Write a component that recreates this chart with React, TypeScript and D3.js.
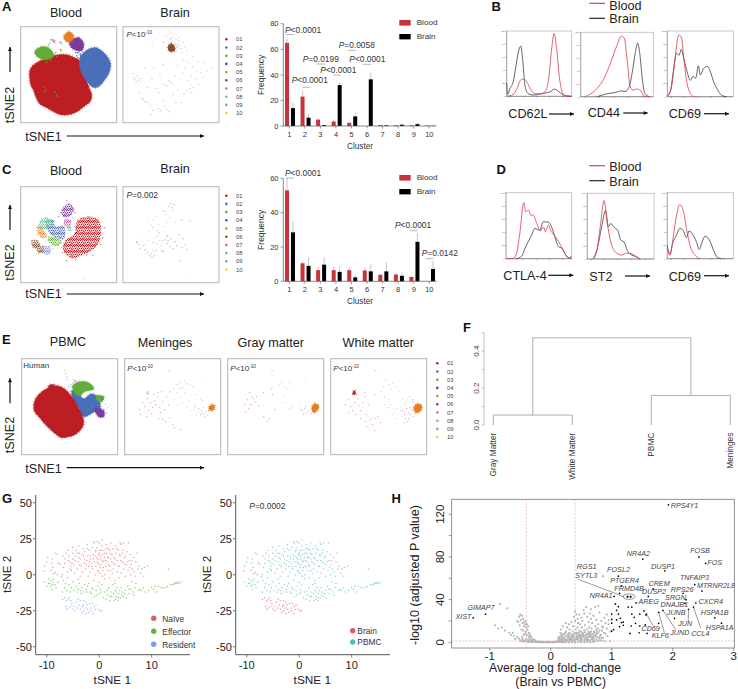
import React from 'react';
import * as d3 from 'd3';

type Pt = number[];

const FONT = '"Liberation Sans", Arial, sans-serif';

// cluster legend
const clusterIds = ['01', '02', '03', '04', '05', '06', '07', '08', '09', '10'];
const clusterColors = ['#bd1e24', '#4a6fb8', '#63ab3a', '#7b3a9e', '#e67f22', '#8a4a26', '#e05fb0', '#6fbf93', '#8a94d6', '#f5cf2e'];
const colorOf = (id: string) => clusterColors[clusterIds.indexOf(id)];
const speckTile = [[0.6,0.8],[2.6,0.4],[4.7,1],[1.5,2.4],[3.6,2.5],[5.5,2.9],[0.4,4],[2.5,4.3],[4.5,4.5],[1.4,5.5],[3.5,5.6],[5.4,5.4]];

// bar charts
const barClusters = ['1', '2', '3', '4', '5', '6', '7', '8', '9', '10'];
const aBlood = [65, 23, 5, 3.5, 2.5, 0, 0.7, 0.5, 0.5, 0.3];
const aBloodTop = [68.5, 28, 6, 5, 3.5, 0, 1, 0.8, 0.8, 0.5];
const aBrain = [14, 6.5, 0.7, 32, 7.5, 36.5, 0.5, 1, 1.5, 0.2];
const aBrainTop = [18, 9.5, 1, 34, 10, 42, 0.8, 2, 2, 0.4];
const cBlood = [53, 10.5, 6.5, 6.5, 6.5, 6.3, 3.8, 4, 2.5, 0];
const cBloodTop = [60, 11.5, 8, 8.5, 8, 8, 4.5, 5, 3, 0];
const cBrain = [28.5, 9, 9.7, 5.5, 2.3, 5.8, 5.8, 3.2, 23, 7.2];
const cBrainTop = [35, 14, 14, 8.5, 4, 10, 11, 5.3, 28, 12];

// flow histograms, % of range on both axes
const cd62lBlood = [[0,0],[10,3],[16,12],[21.5,25],[26.7,26.5],[32,20],[37,10],[44,4],[51,3.5],[59,7],[65,30],[69,71],[73,96],[77,71],[81,30],[86,5],[92,0.5],[100,0]];
const cd62lBrain = [[0,20],[1.5,3],[5,12],[10,22],[14,45],[18,68],[21.5,77],[24.6,56],[28,17],[33,4],[41,2],[49,3],[59,5],[67,7],[73,11],[78,9],[85,3],[92,0.5],[100,0]];
const cd44Blood = [[8,1],[20,10],[31,26],[40,49],[50,80],[56,94],[60,91],[64,57],[68,16],[72,10],[77,12],[83,9],[87,1],[95,0]];
const cd44Brain = [[22,0],[31,3],[38,5],[45,6],[52,8],[56,9],[61,8],[66.5,14.5],[71.5,41],[75,67],[78.5,83],[81.6,65],[85,26],[88.5,5],[95,0]];
const cd69bBlood = [[0,0],[6.5,15],[11.6,56],[15.7,89],[18,94],[21.7,89],[25,58],[30,20],[37,2.5],[42,0]];
const cd69bBrain = [[0,1],[5,10],[9,38],[14,66],[18,63],[21,72],[25,58],[30,38],[35,25],[39,31],[43,28],[47,47],[50,33],[55,43],[61,46],[66,36],[70,23],[76,11],[82,2.5],[90,0]];
const ctlaBlood = [[0,0],[11,0.5],[16,8],[21,38],[27,85],[30,71],[34,74],[37.5,66],[41.6,66],[47,53],[52,42],[57,48],[60,41],[64.5,51],[68,43],[73,36],[80,26],[87,13],[93,3],[100,0]];
const ctlaBrain = [[16,0],[24,4],[29,16],[34,26],[39,36],[44,46],[51,43],[57,56],[64.5,55.5],[69.5,48],[75,31],[80,18],[85,16],[91,5.5],[96,1],[100,4]];
const st2Blood = [[9,0],[15,16],[20,54],[25,89],[30,54],[36.5,21],[44,9],[51.5,6],[59,9],[66.5,8],[74,2.5],[80,0]];
const st2Brain = [[9,0],[15,16],[21.5,49],[27.5,74],[31.5,49],[35,54],[41.5,47],[45.5,44],[50,29],[55,26],[60,13],[66.5,6],[74,3.5],[78,0]];
const cd69dBlood = [[0,16],[4,5],[9,33],[14,66],[19,82],[24,74],[29,46],[35,18],[42,5.5],[49.5,0]];
const cd69dBrain = [[0,19],[4,7],[8,23],[14,36],[19,46],[24,43],[29,32],[33,42],[39,36],[44,26],[48.5,14],[52,23],[57,34],[65,26],[70,13],[76,1.5],[82,0]];

// t-SNE clouds in a 0-96 panel space
const aBloodBlobs: [string, Pt[]][] = [
  ['01', [[9,52],[12,57],[16,60],[22,63],[29,66],[38,68],[46,68],[54,65],[59,62],[62,55],[63,49],[66,42],[68,36],[71,28],[70,22],[63,16],[56,11],[48,8],[40,8],[33,11],[26,15],[19,19],[15,26],[13,32],[10,38],[9,44]]],
  ['02', [[59,64],[63,70],[67,73],[72,75],[76,75],[82,71],[86,67],[89,62],[90,57],[88,49],[84,43],[79,37],[74,35],[70,37],[65,43],[62,48],[59,56]]],
  ['03', [[14,71],[21,76],[29,74],[33,67],[26,63],[18,65]]],
  ['04', [[49,81],[58,85],[63,79],[61,72],[54,73],[50,76]]],
  ['05', [[43,86],[48,91],[53,87],[51,82],[46,81]]],
];
const aBloodDots: [string, Pt[]][] = [
  ['03', [[23,36],[25,33],[34,31],[36,28],[37,26],[24,31],[22,63],[26,60],[19,62],[30,62],[35,70],[36,66]]],
  ['07', [[32,82],[33,83],[34,82],[33,81],[31,83],[34,80]]],
  ['08', [[28,78],[29,80],[30,83],[27,76]]],
  ['09', [[39,80],[40,81],[41,79],[59,68],[58,70]]],
  ['10', [[40,71],[41,72]]],
  ['06', [[41,68],[40,73]]],
  ['02', [[56,67],[57,65],[62,68],[60,69]]],
  ['04', [[55,70],[57,70],[60,67]]],
];
const aBrainBlobs: [string, Pt[]][] = [['06', [[45,76],[48,79],[51,77],[52,73],[49,71],[46,72]]]];
const aBrainDots: [string, Pt[]][] = [
  ['01', [[10,49],[11,45],[12,43],[14,47],[15,42],[17,44],[13,40],[18,41],[20,23],[22,21],[24,20],[19,25],[27,17],[37,48],[36,30],[33,34],[41,38],[46,42],[48,40],[44,37],[50,28],[53,20],[40,22],[42,17],[38,12],[44,13],[46,11],[35,14],[28,8],[30,12],[67,34],[70,35],[64,32],[68,30],[61,29],[58,20],[55,33],[24,35],[29,44],[31,55],[40,58],[52,47],[22,55],[16,30]]],
  ['02', [[60,63],[63,61],[66,59],[62,55],[70,56],[74,52],[78,50],[68,47],[72,43],[65,42],[80,45],[84,52],[60,50],[57,44],[75,61],[70,66],[82,60],[88,55],[76,38],[67,38],[55,57]]],
  ['04', [[50,78],[52,80],[54,76],[55,79],[56,82],[53,83],[57,77],[58,74],[51,74],[60,80],[48,84],[49,81],[56,85],[54,72],[59,70],[52,71],[62,76],[64,72],[55,75],[53,78]]],
  ['05', [[44,86],[46,89],[47,84],[48,90],[49,87],[45,82],[50,85],[47,92],[51,88],[43,88]]],
  ['08', [[31,82],[30,79],[32,84],[29,77]]],
  ['09', [[40,81],[41,80]]],
];
const cBloodBlobs: [string, Pt[]][] = [
  ['01', [[57,62],[68,66],[78,62],[80,51],[76,37],[59,27],[51,25],[43,32],[44,41],[54,49]]],
  ['02', [[26,62],[33,62],[34,56],[43,56],[43,44],[34,46],[28,51]]],
  ['08', [[19,61],[26,65],[31,61],[26,54],[20,54]]],
  ['05', [[17,57],[21,54],[26,46],[21,45],[17,51]]],
  ['03', [[28,46],[34,45],[41,41],[36,37],[28,41]]],
  ['04', [[41,72],[48,79],[53,74],[49,67],[43,66]]],
  ['06', [[11,42],[17,42],[19,37],[13,35]]],
  ['06', [[16,36],[23,36],[23,31],[18,30]]],
  ['09', [[23,36],[29,36],[29,29],[23,29]]],
  ['07', [[44,63],[50,62],[49,57],[44,57]]],
  ['08', [[46,56],[50,56],[50,52],[48,52]]],
];
const cBloodDots: [string, Pt[]][] = [
  ['01', [[42,30],[46,22],[41,35],[84,55],[82,45],[55,55],[80,38],[66,28],[72,27],[55,23]]],
  ['04', [[46,82],[40,70],[54,70],[38,66]]],
  ['10', [[63,4]]],
  ['05', [[37,46],[16,48],[32,34]]],
  ['07', [[42,54],[52,65]]],
];
const cBrainDots: [string, Pt[]][] = [
  ['01', [[44,47],[45,42],[44,39],[39,32],[40,31],[54,37],[59,35],[60,44],[50,34],[57,22],[67,62],[59,63],[48,44],[52,41],[47,36],[14,40],[22,33],[33,32],[56,48],[62,38],[64,33]]],
  ['02', [[27,27],[29,26],[31,27],[25,31],[28,29],[34,52],[35,47],[30,55],[50,72],[49,75],[51,78],[36,50]]],
  ['03', [[37,42],[40,42],[34,39],[42,44],[38,37],[45,46],[30,40],[33,45]]],
  ['07', [[42,71],[40,72],[43,68],[47,65]]],
  ['04', [[48,79],[46,76]]],
  ['06', [[14,41],[17,34],[20,37],[16,38]]],
  ['08', [[24,62],[30,63],[28,58],[33,66],[26,52],[44,60],[52,60]]],
  ['05', [[21,48],[25,42],[22,38]]],
  ['09', [[24,29],[30,32],[36,58],[40,56]]],
  ['10', [[64,4]]],
];
const ePbmcBlobs: [string, Pt[]][] = [
  ['02', [[50,64],[57,61],[62,56],[70,61],[77,56],[78,44],[73,43],[62,38],[57,48],[52,54]]],
  ['03', [[51,69],[58,73],[67,72],[72,66],[63,63],[57,59],[52,63]]],
  ['03', [[75,59],[82,58],[80,53],[75,55]]],
  ['04', [[73,46],[82,44],[82,38],[77,38]]],
  ['01', [[12,49],[14,56],[19,62],[25,66],[35,69],[41,67],[46,63],[50,58],[54,52],[58,45],[61,38],[62,31],[59,25],[53,20],[47,18],[40,17],[35,20],[29,25],[23,31],[18,37],[13,43]]],
  ['01', [[27,69],[32,70],[33,67],[28,65]]],
];
const ePbmcDots: [string, Pt[]][] = [
  ['08', [[43,84],[44,81],[45,78],[46,75],[84,50],[86,47],[82,46]]],
  ['07', [[52,75],[53,74],[54,74],[55,73]]],
  ['02', [[47,68],[49,70],[52,72]]],
  ['06', [[80,56],[81,55],[82,57]]],
  ['10', [[88,49],[90,46],[84,42]]],
  ['09', [[70,48],[76,50],[85,42]]],
];
const eMeningesBlobs: [string, Pt[]][] = [['05', [[84,47],[87,50],[90,49],[89,45],[86,44]]]];
const eMeningesDots: [string, Pt[]][] = [
  ['01', [[15,45],[18,52],[20,48],[16,40],[23,56],[26,52],[28,47],[24,44],[30,54],[33,58],[31,50],[35,47],[27,41],[22,38],[36,42],[40,45],[38,53],[42,58],[29,60],[44,50],[34,36],[38,35],[41,33],[45,37],[48,30],[50,27],[56,25],[33,62],[37,63],[45,63],[22,62],[23,63],[24,61],[23,61]]],
  ['09', [[49,66],[52,62],[50,55],[55,58],[58,52],[54,50],[60,62],[62,47],[66,44],[70,45],[72,40],[74,43],[64,54]]],
  ['03', [[52,70],[56,72],[60,74],[62,71],[65,70],[58,67],[68,68],[55,66],[72,60],[76,56],[78,54]]],
  ['04', [[74,46],[77,44],[79,47],[78,41],[81,43],[76,40],[83,40],[80,38],[70,48],[84,44]]],
  ['08', [[44,84],[45,84]]],
  ['10', [[78,73]]],
];
const eGrayBlobs: [string, Pt[]][] = [['05', [[84,47],[87,51],[91,49],[90,45],[86,42]]]];
const eGrayDots: [string, Pt[]][] = [
  ['01', [[17,50],[20,55],[22,62],[24,58],[26,56],[28,53],[23,50],[29,58],[31,49],[21,46],[36,62],[44,66],[45,60],[36,38],[42,36],[40,33],[47,45],[18,43]]],
  ['09', [[56,58],[64,47],[62,46],[72,46],[75,45],[73,50],[76,42],[58,52]]],
  ['03', [[52,70],[57,68],[60,66],[54,72],[62,72]]],
  ['04', [[74,44],[77,46],[79,42],[78,48],[81,44],[76,40],[83,41]]],
  ['08', [[44,84],[45,84]]],
  ['10', [[78,73],[79,73]]],
];
const eWhiteBlobs: [string, Pt[]][] = [
  ['05', [[83,47],[87,51],[91,49],[90,44],[85,42]]],
  ['01', [[22,62],[24,64],[25,61],[23,60]]],
];
const eWhiteDots: [string, Pt[]][] = [
  ['01', [[15,50],[18,55],[20,48],[24,52],[22,44],[27,56],[28,49],[25,40],[18,42],[30,44],[32,52],[34,58],[36,40],[38,50],[40,35],[42,30],[35,33],[45,36],[30,36],[36,28],[44,24],[47,38],[50,32],[34,62],[44,60]]],
  ['09', [[50,63],[54,58],[58,55],[60,50],[63,46],[64,42],[66,46],[68,40],[70,44],[72,38],[74,42],[62,40],[66,36],[70,47],[58,47],[75,50],[54,50]]],
  ['03', [[55,74],[58,70],[62,72],[66,68],[60,66],[68,64],[53,68],[72,56],[76,55],[79,58],[75,52]]],
  ['04', [[72,44],[74,40],[76,46],[78,42],[75,36],[78,36],[80,40],[81,45],[77,33],[74,32],[83,38],[79,47]]],
  ['06', [[82,55],[82,53]]],
  ['08', [[44,84],[45,84]]],
  ['10', [[78,73]]],
];

// human CD8 sub-clustering, t-SNE units
const naivePoints = [
  [-10.4,6],[-10,9],[-9.8,12],[-9,8],[-8.8,5],[-8.4,15],[-8,14.5],[-7.8,8],[-7.5,7.5],[-9,11],[-6.8,5],[-6.6,8],[-6.5,11],[-6.3,15],[-6,17],[-6,2],[-5.8,13],[-5.6,9],[-5.4,6],[-5.3,3],[-5.1,19],[-5,15],[-5,11],[-4.8,7],[-4.7,1],[-4.5,13],[-4.4,17],[-4.2,4],[-4,9],[-3.9,20],[-3.8,15],[-3.6,-1],[-3.6,11],[-3.4,6],[-3.2,2],[-3,13],[-3,18],[-2.9,8],[-2.7,16],[-2.6,4],[-2.4,10],[-2.3,21],[-2.2,13],[-2.1,-1],[-2,6],[-1.9,17],[-1.8,2],[-1.6,11],[-1.5,8],[-1.4,19],[-1.3,4],[-1.2,14],[-1,22],[-1,-4],[-0.9,9],[-0.8,0],[-0.7,16],[-0.6,6],[-0.5,12],[-0.4,19],[-0.3,3],[-0.2,8],[-0.1,14],[0,-5],[0,22],[0.1,17],[0.2,5],[0.2,1],[0.3,11],[0.4,7],[0.5,20],[0.6,14],[0.7,3],[0.8,9],[0.9,17],[1,12],[1.1,0],[1.2,6],[1.3,21],[1.4,15],[1.5,9],[1.6,3],[1.7,18],[1.8,12],[1.9,-2],[2,6],[2.1,15],[2.2,22],[2.4,9],[2.5,1],[2.6,18],[2.7,4],[2.8,12],[3,-4],[3,7],[3.1,20],[3.2,15],[3.4,2],[3.5,10],[3.6,17],[3.8,-2],[3.9,6],[4,13],[4.2,21],[4.2,1],[4.4,9],[4.5,17],[4.7,4],[4.8,12],[5,-1],[5.1,7],[5.3,16],[5.5,3],[5.6,22],[5.7,10],[5.9,14],[6,0],[6.1,7],[6.3,4],[6.5,12],[6.7,2],[6.9,-1],[7,9],[7.2,15],[7.4,4],[7.6,6],[7.9,1],[8.1,4],[8.4,-1],[8.6,5],[9.2,6],[-7,0],[-6.9,13],[-4,-3],[-2,-6],[1,-3],[3,-6],
  [-5.9,10],[-5.2,8],[-4.6,10],[-4.1,15],[-3.7,7],[-3.3,14],[-2.8,11],[-2.5,7],[-2.2,18],[-1.9,9],[-1.7,13],[-1.4,6],[-1.1,11],[-0.8,13],[-0.6,17],[-0.4,9],[-0.2,11],[0,15],[0,7],[0.2,13],[0.4,17],[0.6,10],[0.8,5],[1,15],[1.2,10],[1.4,18],[1.6,12],[1.8,7],[2,17],[2.2,11],[2.4,14],[2.7,8],[3,11],[3.3,18],[3.6,6],[3.9,14],[4.1,10],[4.4,15],[4.7,8],[5,13],[5.4,9],[5.8,5],[6.2,10],[-0.2,2],[0.6,-1],[2.2,3],[-3.9,12],[-5.5,4]];
const effectorPoints = [
  [-10.4,-5],[-10,-8],[-9.6,-3],[-9.4,-6],[-9.2,-8],[-9,-10],[-8.8,-5],[-8.6,-3],[-8.4,-7],[-8.2,-9],[-7.8,-5],[-7,-12],[-6.8,-4],[-6.6,-9],[-6.4,-6],[-6.2,-11],[-6,-2],[-5.8,-7],[-5.5,-12],[-5.3,-9],[-5,-5],[-4.8,-11],[-4.5,-8],[-4.2,-12],[-4,-10],[-3.8,-6],[-3.5,-13],[-3.3,-9],[-3,-12],[-2.8,-7],[-2.5,-10],[-2.2,-8],[-1.8,-12],[-1.5,-13],[-1.2,-10],[-0.9,-15],[-0.6,-11],[-0.3,-8],[0,-13],[0.2,-10],[0.5,-7],[0.8,-16],[1,-12],[1.3,-17],[1.6,-14],[1.8,-9],[2,-18],[2.2,-12],[2.4,-15],[2.6,-7],[2.8,-18],[3,-11],[3.2,-15],[3.4,-9],[3.5,-18],[3.7,-13],[4,-16],[4.2,-9],[4.4,-12],[4.6,-15],[5,-11],[5.2,-16],[5.4,-8],[5.7,-13],[6,-10],[6.2,-5],[6.6,-14],[6.8,-9],[7,-6],[7.5,-11],[7.8,-10],[8,-11],[8.4,-9],[8.8,-12],[9.4,-11],[10,-9],[10.4,-10],[10.6,-8],[10.9,-12],[11.3,-8],[11.8,-9],[12.2,-9],[12.7,-9],[13,-8],[13.2,4],[13.6,-7],[14,-7],[14.4,-6],[14.8,-6],[15.2,-6],[15.6,-5],[-1,23],[-0.4,23],[0.6,24],[4,22],[4.6,22],
  [-9.7,-6],[-9.1,-4],[-8.9,-7],[-3.6,-11],[-2.4,-12],[-1.4,-9],[-0.5,-14],[0.4,-12],[1.5,-11],[2.1,-15],[2.7,-13],[3.1,-17],[3.3,-12],[3.6,-16],[3.9,-11],[4.3,-14],[4.8,-13],[5.6,-10],[6.4,-12],[14.6,-5.5],[15,-5],[14.2,-6.5]];
const residentPoints = [
  [-7,-17],[-6.6,-16],[-6.2,-18],[-5.9,-17],[-5.6,-16],[-5.4,-18],[-6.4,-22],[-6.2,-24],[-5.8,-23],[-5.4,-22],[-5,-24],[-4.8,-22],[-4.6,-25],[-4.2,-23],[-4,-17],[-3.8,-21],[-3.6,-18],[-3.6,-24],[-3.3,-26],[-3.2,-22],[-3,-18],[-2.9,-25],[-2.7,-23],[-2.6,-19],[-2.5,-27],[-2.3,-21],[-2.2,-24],[-2,-26],[-1.8,-20],[-1.6,-23],[-1.5,-25],[-1.3,-20],[-1.1,-27],[-1,-22],[-0.8,-24],[-0.6,-21],[-0.2,-24],[0.1,-25],[0.4,-25],[-4.4,-19],[-3,-21],[-5.2,-20]];
const brainExtraPoints = [[-10.6,2.5],[-9.2,3],[-8.7,0.7],[-8,0.2],[-7.2,-1.6],[-8.4,1.5]];

// volcano plot
const volcanoGrey = [
  [-0.83,36],[-0.71,32],[-0.91,16],[-0.86,13],[-0.8,14],[-0.75,11],[-0.68,9],[-0.65,7],[-0.6,6],[-0.62,9],[-0.55,5],[-0.58,3],[-0.52,3.5],[-0.5,26],[-0.52,24],[-0.47,25],[-0.49,21],[-0.45,22],[-0.43,19],[-0.46,18],[-0.42,17],[-0.4,14],[-0.44,15],[-0.38,12],[-0.41,10],[-0.36,9],[-0.39,7],[-0.33,6],[-0.35,4],[-0.3,3],[-0.32,5],[-0.27,2.5],[-0.25,1.5],[-0.22,1],[-0.18,0.8],[-0.15,0.5],[-0.12,0.4],[-0.1,0.3],[-0.07,0.2],[-0.04,0.2],[-0.02,0.1],
  [-0.45,0.5],[-0.42,1],[-0.38,0.5],[-0.35,1],[-0.3,0.6],[-0.28,1.2],[-0.24,0.4],[-0.2,0.3],[-0.16,0.2],[-0.12,0.1],[-0.5,2],[-0.46,3],[-0.4,3],[-0.37,2],
  [0,0.1],[0.03,0.2],[0.06,0.2],[0.08,0.4],[0.1,0.3],[0.12,0.8],[0.14,0.3],[0.16,1.2],[0.18,0.4],[0.2,1.8],[0.22,0.5],[0.24,2.4],[0.26,0.8],[0.28,3.2],[0.3,1],[0.32,4],[0.34,1.5],[0.36,2.5],[0.38,5],[0.4,1],[0.42,3],[0.44,6],[0.46,1.5],[0.48,4],[0.5,7],[0.52,2],[0.54,5],[0.56,0.8],[0.58,3],[0.6,8],[0.62,1.5],[0.64,5],[0.66,10],[0.68,3],[0.7,7],[0.72,1],[0.74,12],[0.76,5],[0.78,9],[0.8,2],[0.82,7],[0.84,11],[0.86,4],[0.88,1],[0.9,8],[0.92,13],
  [0.15,3],[0.18,5],[0.2,7],[0.16,9],[0.17,12],[0.22,4],[0.24,6],[0.25,10],[0.27,14],[0.29,6],[0.3,9],[0.31,12],[0.33,3],[0.35,7],[0.36,10],[0.37,15],[0.39,8],[0.41,12],[0.42,5],[0.43,9],[0.44,14],[0.46,7],[0.47,11],[0.49,3],[0.5,10],[0.51,14],[0.53,8],[0.55,11],[0.56,16],[0.57,6],[0.59,12],[0.61,5],[0.62,10],[0.63,14],[0.65,7],[0.67,13],[0.69,5],[0.71,10],[0.73,15],[0.75,8],[0.77,13],[0.8,11],[0.83,4],[0.85,14],[0.87,9],[0.93,6],[0.95,17],[0.97,1],[0.98,10],
  [0.4,29],[0.42,26],[0.44,22],[0.38,24],[0.4,20],[0.45,18],[0.47,26],[0.48,17],[0.5,23],[0.52,20],[0.54,30],[0.55,27],[0.58,33],[0.6,24],[0.62,19],[0.64,27],[0.66,22],[0.68,18],[0.7,25],[0.73,33],[0.75,21],[0.78,17],[0.8,28],[0.83,20],[0.86,62],[0.88,23],[0.9,18],[0.92,26],[0.95,21],[0.78,34],[0.66,31],[0.85,15],[0.3,17],[0.34,19],[0.2,15],[0.25,18],
  [-0.02,0.6],[0.05,0.8],[-0.3,0.1],[0.2,0.1],[0.3,0.1],[0.4,0.2],[0.5,0.2],[0.6,0.3],[0.65,0.2],[0.7,0.4],[0.55,0.1],[0.45,0.1],[0.35,0.2],[0.25,0.1],[0.15,0.1],[0.05,0.1],
];
const volcanoGreyBand = [
  [-0.36,0.3],[-0.33,0.8],[-0.31,0.2],[-0.26,0.3],[-0.22,0.2],[-0.18,0.1],[-0.14,0.1],[-0.09,0.1],[-0.05,0.1],[-0.48,1],[-0.44,1.5],[-0.41,2],[-0.34,2.5],[-0.31,1.5],[-0.47,5],[-0.44,7],[-0.42,8],[-0.48,12],[-0.45,11],[-0.51,16],[-0.55,20],[-0.53,19],[-0.41,20],[-0.39,17],[-0.37,15],[-0.36,6],[-0.34,8],
  [0.11,1.5],[0.13,2],[0.15,1],[0.17,2.5],[0.19,3],[0.21,1.2],[0.23,3.3],[0.25,2],[0.27,1.5],[0.29,4],[0.31,2.5],[0.33,1.8],[0.35,4.5],[0.37,1.2],[0.39,3.2],[0.41,2],[0.43,4.2],[0.45,2.8],[0.47,5.5],[0.49,1.2],[0.51,3.6],[0.53,6],[0.55,2.4],[0.57,4],[0.59,1.6],[0.61,3],[0.63,7],[0.65,2.2],[0.67,4.6],[0.69,1.4],[0.71,3.4],[0.73,5.8],[0.75,2.6],[0.77,1.2],[0.79,4.2],[0.81,6],[0.83,1.8],
  [0.12,4],[0.14,5],[0.16,6],[0.18,7.5],[0.2,4.5],[0.22,8],[0.24,9],[0.26,5.5],[0.28,7.5],[0.3,6],[0.32,8],[0.34,6],[0.36,5.5],[0.38,7],[0.4,9],[0.42,7.5],[0.44,4.5],[0.46,9],[0.48,7],[0.5,5.5],[0.52,9],[0.54,7],[0.56,9.5],[0.58,7],[0.6,5.5],[0.62,8],[0.64,9],[0.66,6],[0.68,8],[0.7,5],[0.72,9],[0.74,6.5],[0.76,10],
];
const volcanoBlack = [
  [1.08,30],[1.11,26.5],[1,26.5],[1,21.5],[1.14,22.5],[1.16,18.5],[1.19,16],[1,18],[1.03,12],[1,10.6],[1.13,14.7],[1.19,19],[1.3,8.4],[1.45,9],[1.33,26.5],[1.37,23.4],[1.46,26.5],[1.53,29.4],[1.56,25.6],[1.39,17.8],[1.46,15.3],[1.32,15.3],[1.55,16.3],[1.33,33],[1.27,33],[1.11,33.4],[1.77,17.8],[1.58,8.4],[1.06,36],[1.08,21],[1.26,42.8],[1.31,42.8],
];
const geneNames = ['RPS4Y1','NR4A2','FOSB','FOS','DUSP1','FOSL2','PTGER4','FRMD4B','NR4A1','CREM','DUSP2','AREG','TNFAIP3','MTRNR2L8','RPS26','SRGN','DNAJB1','CXCR4','HSPA1B','HSPA1A','JUNB','JUN','CCL4','JUND','KLF6','CD69','GIMAP7','XIST','RGS1','SYTL3'];
const geneFold = [1.93,1.51,2.43,2.54,1.87,1.11,1.16,1.13,1.04,1.68,1.6,1.4,2.36,2.48,2.17,2.22,2.2,2.38,2.69,2.8,2.03,2.26,2.34,1.84,1.77,1.57,-1.07,-1.27,1.26,1.31];
const genePval = [128.8,78,80,74,67,62,53,46,43,50,43,37,54,48,46,40,36.5,37,23,18,22.5,31,33,30,28,26.5,26.5,23,42.8,42.8];
const geneLabelOffset = [[2.3,3.3],[-16,-3.3],[-8.7,-3.7],[1.7,2],[-13.7,-2],[-11.3,-3.7],[-11.3,-2.7],[-5.3,-2],[-24.7,2],[-4.7,-3.3],[-6.3,-2.7],[2.3,1.3],[-14.7,-5],[-5,-3.3],[-12.3,-1.7],[-21,0],[-24.3,4],[2.7,1.3],[-14,-3],[-15.7,6.7],[-7.7,-3],[-10.3,16.3],[-2.3,28.7],[7.3,24.7],[-7,26],[-5,17],[-18,-3.7],[-17.7,1.3],[-50.7,-27.7],[-55.3,-18.3]];
const geneLeaders: Record<string, number[]> = { JUN: [-0.3, 12.3], CCL4: [7.3, 21], JUND: [12.7, 19.3], KLF6: [5.7, 20.3], CD69: [6.7, 11.7] };

// dendrogram
const leafNames = ['Gray Matter', 'White Matter', 'PBMC', 'Meninges'];
const mergeLow = 0.054;
const mergeHigh = 0.16;
const mergeTop = 0.472;

const blobLine = d3.line<Pt>().curve(d3.curveCatmullRomClosed.alpha(0.5));

function Txt({ x, y, size = 8, anchor = 'start', fill = '#222', rotate = 0, weight = 'normal', italic = false, children }: any) {
  return (
    <text
      transform={`translate(${x},${y})${rotate ? ` rotate(${rotate})` : ''}`}
      fontFamily={FONT} fontSize={size} textAnchor={anchor} fill={fill}
      fontWeight={weight} fontStyle={italic ? 'italic' : 'normal'}
    >
      {children}
    </text>
  );
}

function PLabel({ x, y, rest, size = 8.4, fill = '#333' }: any) {
  return (
    <text x={x} y={y} fontFamily={FONT} fontSize={size} fill={fill}>
      <tspan fontStyle="italic">P</tspan>{rest}
    </text>
  );
}

function PExp({ x, y }: any) {
  return (
    <text x={x} y={y} fontFamily={FONT} fontSize={8} fill="#333">
      <tspan fontStyle="italic">P</tspan>{'<10'}
      <tspan fontSize={4.6} dy={-3}>-10</tspan>
    </text>
  );
}

function Arrow({ x1, y1, x2, y2, w = 1.2 }: any) {
  const horiz = y1 === y2;
  const head = horiz ? `${x2},${y2} ${x2 - 4},${y2 - 2} ${x2 - 4},${y2 + 2}` : `${x2},${y2} ${x2 - 2},${y2 + 4} ${x2 + 2},${y2 + 4}`;
  return (
    <g>
      <line x1={x1} y1={y1} x2={x2} y2={y2} stroke="#111" strokeWidth={w} />
      <polygon points={head} fill="#111" />
    </g>
  );
}

function TsnePanel({ x, y, size = 96, blobs = [], dots = [], speck = false, r = 0.6, alpha = 0.45 }: any) {
  const sx = d3.scaleLinear().domain([0, 96]).range([x, x + size]);
  const sy = d3.scaleLinear().domain([0, 96]).range([y + size, y]);
  const line = (pts: Pt[]) => blobLine(pts.map(p => [sx(p[0]), sy(p[1])])) || '';
  return (
    <g>
      <rect x={x} y={y} width={size} height={size} fill="#fff" stroke="#b4b4b4" strokeWidth={1} />
      {blobs.map(([id, pts]: any, i: number) => (
        <g key={i}>
          {!speck && (
            <path d={line(pts)} fill="none" stroke={colorOf(id)} strokeWidth={3.2} strokeDasharray="0.7 2.3" strokeOpacity={0.4} />
          )}
          <path
            d={line(pts)}
            fill={speck ? `url(#speck${id})` : colorOf(id)}
            stroke={colorOf(id)}
            strokeWidth={speck ? 1.2 : 1.2}
            strokeDasharray={speck ? '0.8 2.4' : '1 1.2'}
            strokeOpacity={speck ? 0.75 : 0.85}
          />
        </g>
      ))}
      {dots.map(([id, pts]: any) =>
        pts.map((p: Pt, i: number) => (
          <circle key={id + i} cx={sx(p[0])} cy={sy(p[1])} r={r} fill={colorOf(id)} opacity={alpha} />
        ))
      )}
    </g>
  );
}

function ClusterLegend({ x, y }: any) {
  const sy = d3.scalePoint().domain(clusterIds).range([y, y + 73.8]);
  return (
    <g>
      {clusterIds.map(id => (
        <g key={id}>
          <circle cx={x} cy={sy(id)} r={1.3} fill={colorOf(id)} />
          <Txt x={x + 9.7} y={(sy(id) as number) + 2} size={5.8} fill="#444">{id}</Txt>
        </g>
      ))}
    </g>
  );
}

function BarChart({ baseY, topY, maxVal, ticks, blood, bloodTop, brain, brainTop, labelY, legendY }: any) {
  const x = d3.scalePoint().domain(barClusters).range([289.3, 429.3]);
  const y = d3.scaleLinear().domain([0, maxVal]).range([baseY, topY]);
  const axis = '#555';
  return (
    <g>
      {barClusters.map((c, i) => {
        const cx = x(c) as number;
        return (
          <g key={c}>
            <line x1={cx - 2.3} x2={cx - 2.3} y1={y(blood[i])} y2={y(bloodTop[i])} stroke="#aaa" strokeWidth={0.7} />
            <line x1={cx + 3.7} x2={cx + 3.7} y1={y(brain[i])} y2={y(brainTop[i])} stroke="#aaa" strokeWidth={0.7} />
            <rect x={cx - 4.3} y={y(blood[i])} width={4} height={baseY - y(blood[i])} fill="#c8343a" />
            <rect x={cx + 1.7} y={y(brain[i])} width={4} height={baseY - y(brain[i])} fill="#000" />
            <line x1={cx} x2={cx} y1={baseY} y2={baseY + 2.5} stroke={axis} strokeWidth={0.6} />
            <Txt x={cx} y={baseY + 11} size={7.5} anchor="middle" fill="#333">{c}</Txt>
          </g>
        );
      })}
      <line x1={283.3} x2={436.7} y1={baseY} y2={baseY} stroke={axis} strokeWidth={0.7} />
      <line x1={283.3} x2={283.3} y1={baseY} y2={topY} stroke={axis} strokeWidth={0.7} />
      {ticks.map((t: number) => (
        <g key={t}>
          <line x1={280.5} x2={283.3} y1={y(t)} y2={y(t)} stroke={axis} strokeWidth={0.6} />
          <Txt x={278.5} y={y(t) + 2.7} size={7.5} anchor="end" fill="#333">{t}</Txt>
        </g>
      ))}
      <Txt x={264} y={(baseY + topY) / 2} size={8.5} anchor="middle" rotate={-90} fill="#333">Frequency</Txt>
      <Txt x={360} y={labelY} size={8.2} anchor="middle" fill="#333">Cluster</Txt>
      <rect x={399.3} y={legendY} width={11.4} height={5.6} fill="#c8343a" />
      <Txt x={416.7} y={legendY + 5.3} size={8.1} fill="#333">Blood</Txt>
      <rect x={399.3} y={legendY + 14} width={11.4} height={5.4} fill="#000" />
      <Txt x={416.7} y={legendY + 19} size={8.1} fill="#333">Brain</Txt>
    </g>
  );
}

function Facs({ x0, x1, y0, y1, blood, brain }: any) {
  const sx = d3.scaleLinear().domain([0, 100]).range([x0, x1]);
  const sy = d3.scaleLinear().domain([0, 100]).range([y1, y0]);
  const line = d3.line<Pt>().x(d => sx(d[0])).y(d => sy(d[1])).curve(d3.curveMonotoneX);
  return (
    <g>
      <rect x={x0} y={y0} width={x1 - x0} height={y1 - y0} fill="#fff" stroke="#bbb" strokeWidth={0.8} />
      <line x1={x0} x2={x1} y1={y1} y2={y1} stroke="#666" strokeWidth={0.6} />
      <line x1={x0} x2={x0} y1={y0} y2={y1} stroke="#888" strokeWidth={0.5} />
      {sy.ticks(5).map(t => (
        <g key={t}>
          <line x1={x0 - 1} x2={x0} y1={sy(t)} y2={sy(t)} stroke="#666" strokeWidth={0.4} />
          <Txt x={x0 - 1.5} y={sy(t) + 0.8} size={2.4} anchor="end" fill="#555">{t}</Txt>
        </g>
      ))}
      {[6, 26, 46, 66, 86].map(t => (
        <line key={t} x1={sx(t)} x2={sx(t)} y1={y1} y2={y1 + 1.2} stroke="#444" strokeWidth={0.4} />
      ))}
      <path d={line(brain) || ''} fill="none" stroke="#333" strokeWidth={0.75} />
      <path d={line(blood) || ''} fill="none" stroke="#dc3d47" strokeWidth={0.8} />
    </g>
  );
}

function FacsKey({ y, bloodBase, brainBase }: any) {
  return (
    <g>
      <line x1={589.3} x2={605} y1={y} y2={y} stroke="#dc3d47" strokeWidth={1.2} />
      <Txt x={609.3} y={bloodBase} size={12.6}>Blood</Txt>
      <line x1={589.3} x2={605} y1={y + 15} y2={y + 15} stroke="#222" strokeWidth={1.2} />
      <Txt x={609.3} y={brainBase} size={12.6}>Brain</Txt>
    </g>
  );
}

function SubClusterPlot({ left, layers, children }: any) {
  const x = d3.scaleLinear().domain([-12.1, 17.3]).range([left + 35.7, left + 190]);
  const y = d3.scaleLinear().domain([-55.5, 55.4]).range([654.7, 495]);
  const axis = '#555';
  return (
    <g>
      {layers.map(([pts, color]: any, k: number) =>
        pts.map((p: Pt, i: number) => (
          <circle key={`${k}-${i}`} cx={x(p[0])} cy={y(p[1])} r={0.75} fill={color} opacity={0.65} />
        ))
      )}
      <line x1={left + 35.7} x2={left + 35.7} y1={495} y2={654.7} stroke={axis} strokeWidth={1} />
      <line x1={left + 35.7} x2={left + 190} y1={654.7} y2={654.7} stroke={axis} strokeWidth={1} />
      {[-50, -25, 0, 25, 50].map(t => (
        <g key={t}>
          <line x1={left + 33} x2={left + 35.7} y1={y(t)} y2={y(t)} stroke={axis} strokeWidth={0.8} />
          <Txt x={left + 32} y={y(t) + 3.9} size={11} anchor="end">{t}</Txt>
        </g>
      ))}
      {[-10, 0, 10].map(t => (
        <g key={t}>
          <line x1={x(t)} x2={x(t)} y1={654.7} y2={657.4} stroke={axis} strokeWidth={0.8} />
          <Txt x={x(t)} y={668.5} size={11} anchor="middle">{t}</Txt>
        </g>
      ))}
      <Txt x={left + 112.3} y={684} size={11.8} anchor="middle">tSNE 1</Txt>
      <Txt x={left + 10.7} y={574.3} size={11.8} anchor="middle" rotate={-90}>tSNE 2</Txt>
      {children}
    </g>
  );
}

function Volcano() {
  const x = d3.scaleLinear().domain([-1.623, 3.01]).range([451.7, 734.3]);
  const y = d3.scaleLinear().domain([-5.3, 134]).range([648, 499.3]);
  const pink = '#e6b8bd';
  return (
    <g>
      {volcanoGrey.concat(volcanoGreyBand).map((p, i) => <circle key={i} cx={x(p[0])} cy={y(p[1])} r={1.05} fill="#b2b2b2" />)}
      <line x1={x(-0.4)} x2={x(-0.4)} y1={499.3} y2={648} stroke={pink} strokeWidth={0.8} strokeDasharray="2 1.5" />
      <line x1={x(0.4)} x2={x(0.4)} y1={499.3} y2={648} stroke={pink} strokeWidth={0.8} strokeDasharray="2 1.5" />
      <line x1={451.7} x2={734.3} y1={y(1.3)} y2={y(1.3)} stroke={pink} strokeWidth={0.8} strokeDasharray="2 1.5" />
      {volcanoBlack.map((p, i) => <circle key={i} cx={x(p[0])} cy={y(p[1])} r={0.85} fill="#000" />)}
      {geneNames.map((g, i) => {
        const dx = x(geneFold[i]);
        const dy = y(genePval[i]);
        const leader = geneLeaders[g];
        return (
          <g key={g}>
            <circle cx={dx} cy={dy} r={0.85} fill="#000" />
            {leader && <line x1={dx} y1={dy} x2={dx + leader[0]} y2={dy + leader[1]} stroke="#333" strokeWidth={0.5} />}
            <Txt x={dx + geneLabelOffset[i][0]} y={dy + geneLabelOffset[i][1]} size={7.2} italic fill="#444">{g}</Txt>
          </g>
        );
      })}
      <ellipse cx={(x(1.26) + x(1.31)) / 2} cy={y(42.8)} rx={6} ry={2.7} fill="none" stroke="#333" strokeWidth={0.5} />
      <line x1={x(1.31) - 52.3} y1={y(42.8) - 17.3} x2={x(1.31) - 6.7} y2={y(42.8)} stroke="#333" strokeWidth={0.5} />
      <rect x={451.7} y={499.3} width={282.6} height={148.7} fill="none" stroke="#777" strokeWidth={0.8} />
      {[-1, 0, 1, 2, 3].map(t => (
        <g key={t}>
          <line x1={x(t)} x2={x(t)} y1={648} y2={651} stroke="#555" strokeWidth={0.6} />
          <Txt x={x(t)} y={659.5} size={11.5} anchor="middle">{t}</Txt>
        </g>
      ))}
      {[0, 20, 40, 60, 80, 100, 120].map(t => (
        <line key={t} x1={448.7} x2={451.7} y1={y(t)} y2={y(t)} stroke="#555" strokeWidth={0.6} />
      ))}
      {[0, 40, 80, 120].map(t => (
        <Txt key={t} x={444} y={y(t)} size={11.5} anchor="middle" rotate={-90}>{t}</Txt>
      ))}
      <Txt x={419} y={575} size={12.6} anchor="middle" rotate={-90}>-log10 (adjusted P value)</Txt>
      <Txt x={555} y={671.7} size={12.2} anchor="middle">Average log fold-change</Txt>
      <Txt x={560.7} y={685.7} size={12.2} anchor="middle">(Brain vs PBMC)</Txt>
    </g>
  );
}

function Dendrogram() {
  const y = d3.scaleLinear().domain([0, 0.5]).range([425, 332.7]);
  const x = d3.scalePoint().domain(leafNames).range([493.3, 730.3]);
  const [a, b, c, d] = leafNames.map(n => x(n) as number);
  const left = (a + b) / 2;
  const right = (c + d) / 2;
  const grey = '#a6a6a6';
  const branches = [
    `M${a},${y(0)}V${y(mergeLow)}H${b}V${y(0)}`,
    `M${c},${y(0)}V${y(mergeHigh)}H${d}V${y(0)}`,
    `M${left},${y(mergeLow)}V${y(mergeTop)}H${right}V${y(mergeHigh)}`,
  ];
  return (
    <g>
      {branches.map((p, i) => <path key={i} d={p} fill="none" stroke={grey} strokeWidth={0.9} />)}
      <line x1={484} x2={484} y1={y(0)} y2={y(0.5)} stroke={grey} strokeWidth={0.7} />
      {[0, 0.1, 0.2, 0.3, 0.4, 0.5].map(t => (
        <line key={t} x1={481.5} x2={484} y1={y(t)} y2={y(t)} stroke={grey} strokeWidth={0.6} />
      ))}
      {[0, 0.2, 0.4].map(t => (
        <Txt key={t} x={479} y={y(t)} size={8} anchor="middle" rotate={-90} fill="#444">{t.toFixed(1)}</Txt>
      ))}
      {leafNames.map(n => (
        <Txt key={n} x={(x(n) as number) + 2.8} y={432.7} size={8.3} anchor="end" rotate={-90} fill="#333">{n}</Txt>
      ))}
    </g>
  );
}

function Bracket({ x1, x2, y }: any) {
  return <line x1={x1} x2={x2} y1={y} y2={y} stroke="#999" strokeWidth={0.7} />;
}

export default function App() {
  const lbl = (x: number, y: number, t: string) => <Txt x={x} y={y} size={13} weight="bold" fill="#111">{t}</Txt>;
  return (
    <svg width={738} height={689} style={{ position: 'absolute', left: 0, top: 0 }}>
      <defs>
        {clusterIds.map((id, i) => (
          <pattern key={id} id={`speck${id}`} width={6} height={6} patternUnits="userSpaceOnUse">
            {speckTile.map((p, k) => <circle key={k} cx={p[0]} cy={p[1]} r={0.75} fill={clusterColors[i]} />)}
          </pattern>
        ))}
      </defs>
      <rect width={738} height={689} fill="#fff" />

      {/* A */}
      {lbl(2, 11, 'A')}
      <Txt x={66} y={17.3} size={12.6} anchor="middle">Blood</Txt>
      <Txt x={175} y={17.3} size={12.6} anchor="middle">Brain</Txt>
      <TsnePanel x={20.7} y={26.7} blobs={aBloodBlobs} dots={aBloodDots} alpha={0.9} r={0.8} />
      <TsnePanel x={123} y={26.7} blobs={aBrainBlobs} dots={aBrainDots} alpha={0.38} />
      <PExp x={126.5} y={36.5} />
      <ClusterLegend x={226.3} y={39.3} />
      <Txt x={14.3} y={105} size={12.6} anchor="middle" rotate={-90}>tSNE2</Txt>
      <Arrow x1={10} y1={72} x2={10} y2={47} />
      <Txt x={25.3} y={140.7} size={12.6}>tSNE1</Txt>
      <Arrow x1={66.7} y1={136} x2={204} y2={136} />
      <BarChart baseY={126} topY={23.7} maxVal={80} ticks={[0, 20, 40, 60, 80]} blood={aBlood} bloodTop={aBloodTop} brain={aBrain} brainTop={aBrainTop} labelY={149} legendY={20} />
      <PLabel x={285} y={33.3} rest="<0.0001" /><Bracket x1={286} x2={294} y={34.5} />
      <PLabel x={291.7} y={83} rest="<0.0001" /><Bracket x1={302.7} x2={310} y={87.3} />
      <PLabel x={302.7} y={62} rest="=0.0199" /><Bracket x1={316.7} x2={325} y={64} />
      <PLabel x={320.3} y={72.7} rest="<0.0001" /><Bracket x1={333} x2={341} y={75} />
      <PLabel x={338.7} y={48} rest="=0.0058" /><Bracket x1={348} x2={356} y={50.3} />
      <PLabel x={349.3} y={62} rest="<0.0001" /><Bracket x1={363} x2={371} y={64.3} />

      {/* B */}
      {lbl(491.5, 11, 'B')}
      <FacsKey y={3.3} bloodBase={10} brainBase={23.3} />
      <Facs x0={506.7} x1={571.7} y0={31} y1={96.3} blood={cd62lBlood} brain={cd62lBrain} />
      <Facs x0={580.7} x1={653.3} y0={32.3} y1={96.7} blood={cd44Blood} brain={cd44Brain} />
      <Facs x0={667.3} x1={733.3} y0={31} y1={96.7} blood={cd69bBlood} brain={cd69bBrain} />
      <Txt x={508.3} y={118.3} size={12.6}>CD62L</Txt><Arrow x1={549} y1={114} x2={574} y2={114} />
      <Txt x={587.7} y={116.7} size={12.6}>CD44</Txt><Arrow x1={623.3} y1={113} x2={647.7} y2={113} />
      <Txt x={668.7} y={118.3} size={12.6}>CD69</Txt><Arrow x1={704} y1={113.7} x2={729} y2={113.7} />

      {/* C */}
      {lbl(2, 174, 'C')}
      <Txt x={66} y={175} size={12.6} anchor="middle">Blood</Txt>
      <Txt x={175} y={173.3} size={12.6} anchor="middle">Brain</Txt>
      <TsnePanel x={20.7} y={186.7} blobs={cBloodBlobs} dots={cBloodDots} speck alpha={0.7} />
      <TsnePanel x={123} y={186.7} dots={cBrainDots} alpha={0.5} />
      <PLabel x={126.5} y={198} rest="=0.002" />
      <ClusterLegend x={226.3} y={195.7} />
      <Txt x={14.3} y={262.5} size={12.6} anchor="middle" rotate={-90}>tSNE2</Txt>
      <Arrow x1={10} y1={230} x2={10} y2={205} />
      <Txt x={25.3} y={298.3} size={12.6}>tSNE1</Txt>
      <Arrow x1={66.7} y1={294} x2={204} y2={294} />
      <BarChart baseY={281.3} topY={178.3} maxVal={60} ticks={[0, 20, 40, 60]} blood={cBlood} bloodTop={cBloodTop} brain={cBrain} brainTop={cBrainTop} labelY={304.3} legendY={175} />
      <PLabel x={285} y={175.7} rest="<0.0001" /><Bracket x1={286} x2={294} y={178} />
      <PLabel x={395} y={227.7} rest="<0.0001" /><Bracket x1={410} x2={417.7} y={230.7} />
      <PLabel x={421.7} y={256.3} rest="=0.0142" /><Bracket x1={425.7} x2={433.3} y={258.7} />

      {/* D */}
      {lbl(496.5, 174.3, 'D')}
      <FacsKey y={165.7} bloodBase={170.7} brainBase={185.7} />
      <Facs x0={506} x1={571.7} y0={192.7} y1={258.7} blood={ctlaBlood} brain={ctlaBrain} />
      <Facs x0={587.3} x1={654} y0={193.3} y1={259} blood={st2Blood} brain={st2Brain} />
      <Facs x0={667.3} x1={733.3} y0={192.7} y1={258.7} blood={cd69dBlood} brain={cd69dBrain} />
      <Txt x={503.3} y={280} size={12.6}>CTLA-4</Txt><Arrow x1={548.3} y1={275.3} x2={573.3} y2={275.3} />
      <Txt x={589.3} y={280.7} size={12.6}>ST2</Txt><Arrow x1={625} y1={276} x2={650} y2={276} />
      <Txt x={668.7} y={280.7} size={12.6}>CD69</Txt><Arrow x1={704} y1={275.7} x2={729} y2={275.7} />

      {/* E */}
      {lbl(2, 344, 'E')}
      <Txt x={68} y={346} size={12.6} anchor="middle">PBMC</Txt>
      <Txt x={165} y={346.7} size={12.6} anchor="middle">Meninges</Txt>
      <Txt x={270.7} y={346.7} size={12.6} anchor="middle">Gray matter</Txt>
      <Txt x={378.3} y={346.7} size={12.6} anchor="middle">White matter</Txt>
      <TsnePanel x={21.7} y={358.7} blobs={ePbmcBlobs} dots={ePbmcDots} alpha={0.7} />
      <TsnePanel x={124.7} y={358.7} blobs={eMeningesBlobs} dots={eMeningesDots} alpha={0.42} />
      <TsnePanel x={227.7} y={358.7} blobs={eGrayBlobs} dots={eGrayDots} alpha={0.42} />
      <TsnePanel x={330.7} y={358.7} blobs={eWhiteBlobs} dots={eWhiteDots} alpha={0.42} />
      <Txt x={23.3} y={368.3} size={8} fill="#333">Human</Txt>
      <PExp x={127.3} y={370.7} />
      <PExp x={230.3} y={370.7} />
      <PExp x={333.3} y={370.7} />
      <ClusterLegend x={437.3} y={363.3} />
      <Txt x={14.3} y={435} size={12.6} anchor="middle" rotate={-90}>tSNE2</Txt>
      <Arrow x1={10} y1={403.3} x2={10} y2={378.3} />
      <Txt x={25.3} y={472.7} size={12.6}>tSNE1</Txt>
      <Arrow x1={66.7} y1={467.7} x2={204} y2={467.7} />

      {/* F */}
      {lbl(463, 332, 'F')}
      <Dendrogram />

      {/* G */}
      {lbl(2, 503, 'G')}
      <SubClusterPlot left={0} layers={[[naivePoints, '#dc6f6f'], [effectorPoints, '#58b53a'], [residentPoints, '#7c9cf7'], [brainExtraPoints, '#dc6f6f']]}>
        <circle cx={153.7} cy={618.3} r={2.7} fill="#d9625f" />
        <Txt x={162.3} y={622} size={8.4} fill="#333">Naïve</Txt>
        <circle cx={153.7} cy={631.3} r={2.7} fill="#58b53a" />
        <Txt x={162.3} y={635} size={8.4} fill="#333">Effector</Txt>
        <circle cx={153.7} cy={644.3} r={2.7} fill="#7c9cf7" />
        <Txt x={162.3} y={648} size={8.4} fill="#333">Resident</Txt>
      </SubClusterPlot>
      <SubClusterPlot left={200} layers={[[naivePoints, '#58b9bc'], [effectorPoints, '#58b9bc'], [residentPoints, '#d9625f'], [brainExtraPoints, '#d9625f']]}>
        <PLabel x={249.3} y={508.7} rest="=0.0002" />
        <circle cx={352.7} cy={630.7} r={2.7} fill="#d9625f" />
        <Txt x={357.3} y={634} size={8.4} fill="#333">Brain</Txt>
        <circle cx={352.7} cy={642} r={2.7} fill="#58b9bc" />
        <Txt x={357.3} y={645} size={8.4} fill="#333">PBMC</Txt>
      </SubClusterPlot>

      {/* H */}
      {lbl(391.5, 503, 'H')}
      <Volcano />
    </svg>
  );
}
